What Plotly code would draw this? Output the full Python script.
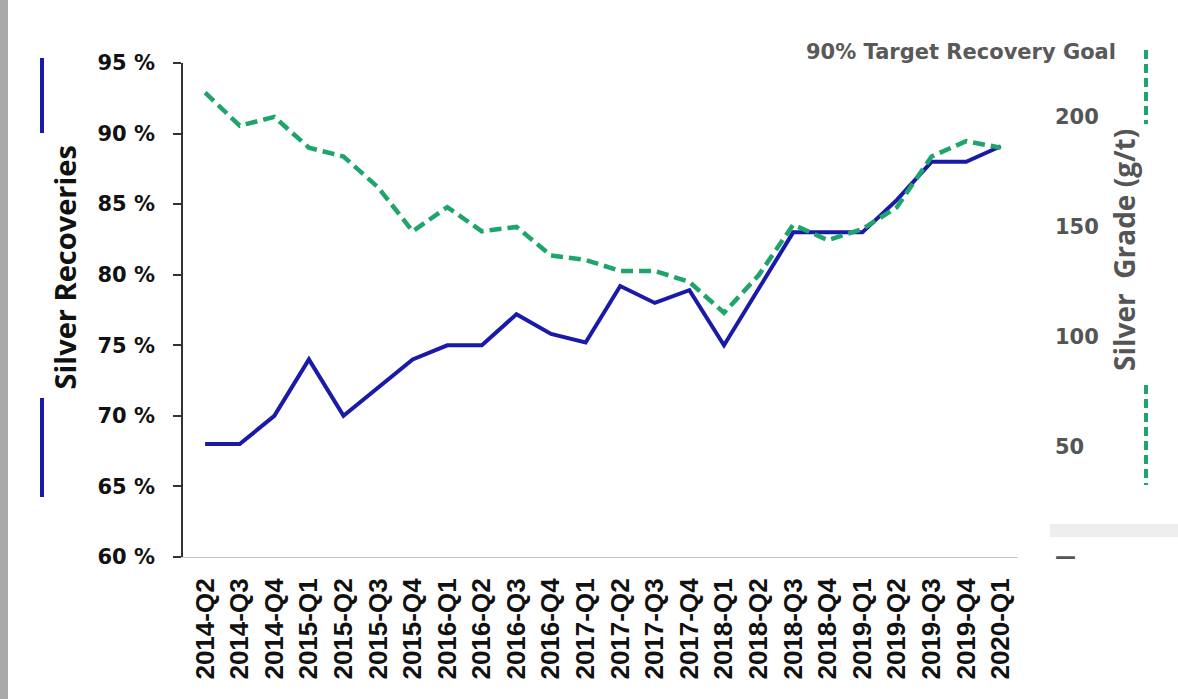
import plotly.graph_objects as go

quarters = ["2014-Q2", "2014-Q3", "2014-Q4", "2015-Q1", "2015-Q2", "2015-Q3", "2015-Q4",
            "2016-Q1", "2016-Q2", "2016-Q3", "2016-Q4", "2017-Q1", "2017-Q2", "2017-Q3",
            "2017-Q4", "2018-Q1", "2018-Q2", "2018-Q3", "2018-Q4", "2019-Q1", "2019-Q2",
            "2019-Q3", "2019-Q4", "2020-Q1"]
recoveries = [68, 68, 70, 74, 70, 72, 74, 75, 75, 77.2, 75.8, 75.2, 79.2, 78, 78.9, 75,
              79, 83, 83, 83, 85.3, 88, 88, 89.1]
grade = [211, 196, 200, 186, 182, 168, 148, 159, 148, 150, 137, 135, 130, 130, 125, 111,
         128, 151, 144, 149, 159, 182, 189, 186]
left_ticks = [60, 65, 70, 75, 80, 85, 90, 95]
left_ticktext = ["60 %", "65 %", "70 %", "75 %", "80 %", "85 %", "90 %", "95 %"]
right_ticks = [0, 50, 100, 150, 200]
right_ticktext = ["—", "50", "100", "150", "200"]

W, H = 1178, 699
L, R, T, B = 183, 1018, 63, 557
pw, ph = R - L, B - T


def px(x):
    return (x - L) / pw


def py(y):
    return (B - y) / ph


BLUE = "#1a1aa8"
GREEN = "#1fa56c"

fig = go.Figure()
fig.add_trace(go.Scatter(x=quarters, y=recoveries, mode="lines", name="Silver Recoveries",
                         line=dict(color=BLUE, width=4), yaxis="y"))
fig.add_trace(go.Scatter(x=quarters, y=grade, mode="lines", name="Silver Grade (g/t)",
                         line=dict(color=GREEN, width=4.5, dash="12px,6px"), yaxis="y2"))

fig.update_layout(
    width=W, height=H,
    margin=dict(l=L, r=W - R, t=T, b=H - B, pad=0),
    paper_bgcolor="white", plot_bgcolor="white",
    showlegend=False,
    xaxis=dict(type="category", range=[-0.64, 23.5], tickangle=-90,
               showline=True, linecolor="#c8c8c8", linewidth=1, showgrid=False,
               ticks="", zeroline=False, ticklabelstandoff=10,
               tickfont=dict(family="Liberation Sans", size=26, color="#111", weight="bold")),
    yaxis=dict(range=[60, 95], tickvals=left_ticks, ticktext=left_ticktext, showgrid=False,
               showline=True, linecolor="#333", linewidth=1.5, ticks="outside",
               ticklen=8, tickcolor="#333", tickwidth=1.5, zeroline=False,
               ticklabelstandoff=14,
               tickfont=dict(family="DejaVu Sans", size=21, color="#111", weight="bold")),
    yaxis2=dict(range=[0, 224.5], overlaying="y", side="right", tickvals=right_ticks,
                ticktext=right_ticktext, showgrid=False, showline=False, zeroline=False,
                ticks="", ticklabelstandoff=36,
                tickfont=dict(family="DejaVu Sans", size=21, color="#555", weight="bold")),
)

# Left axis title with blue legend segments
fig.add_annotation(text="Silver Recoveries", xref="paper", yref="paper",
                   x=px(42), y=py(268), textangle=-90, showarrow=False,
                   font=dict(family="Open Sans", size=29, color="#111", weight="bold"))
fig.add_shape(type="line", xref="paper", yref="paper", x0=px(42), x1=px(42),
              y0=py(58), y1=py(133), line=dict(color=BLUE, width=4))
fig.add_shape(type="line", xref="paper", yref="paper", x0=px(42), x1=px(42),
              y0=py(398), y1=py(497), line=dict(color=BLUE, width=4))

# Right axis title with green dashed legend segments
fig.add_annotation(text="Silver  Grade (g/t)", xref="paper", yref="paper",
                   x=px(1145), y=py(250), textangle=-90, showarrow=False,
                   font=dict(family="Open Sans", size=28, color="#555", weight="bold"))
fig.add_shape(type="line", xref="paper", yref="paper", x0=px(1146), x1=px(1146),
              y0=py(50), y1=py(124), line=dict(color=GREEN, width=4, dash="9px,5px"))
fig.add_shape(type="line", xref="paper", yref="paper", x0=px(1146), x1=px(1146),
              y0=py(385), y1=py(485), line=dict(color=GREEN, width=4, dash="9px,5px"))

# Header text
fig.add_annotation(text="90% Target Recovery Goal", xref="paper", yref="paper",
                   x=px(1118), y=py(52), xanchor="right", yanchor="middle", showarrow=False,
                   font=dict(family="DejaVu Sans", size=21, color="#595959", weight="bold"))

# Slide edge decorations
fig.add_shape(type="rect", xref="paper", yref="paper", x0=px(0), x1=px(8),
              y0=py(0), y1=py(699), fillcolor="#a8a8a8", line=dict(width=0), layer="below")
fig.add_shape(type="rect", xref="paper", yref="paper", x0=px(1050), x1=px(1178),
              y0=py(524), y1=py(537), fillcolor="#eeeeee", line=dict(width=0), layer="below")

fig.write_html("out.html", config={"displayModeBar": False},
               post_script="document.body.style.margin='0';document.body.style.overflow='hidden';")
